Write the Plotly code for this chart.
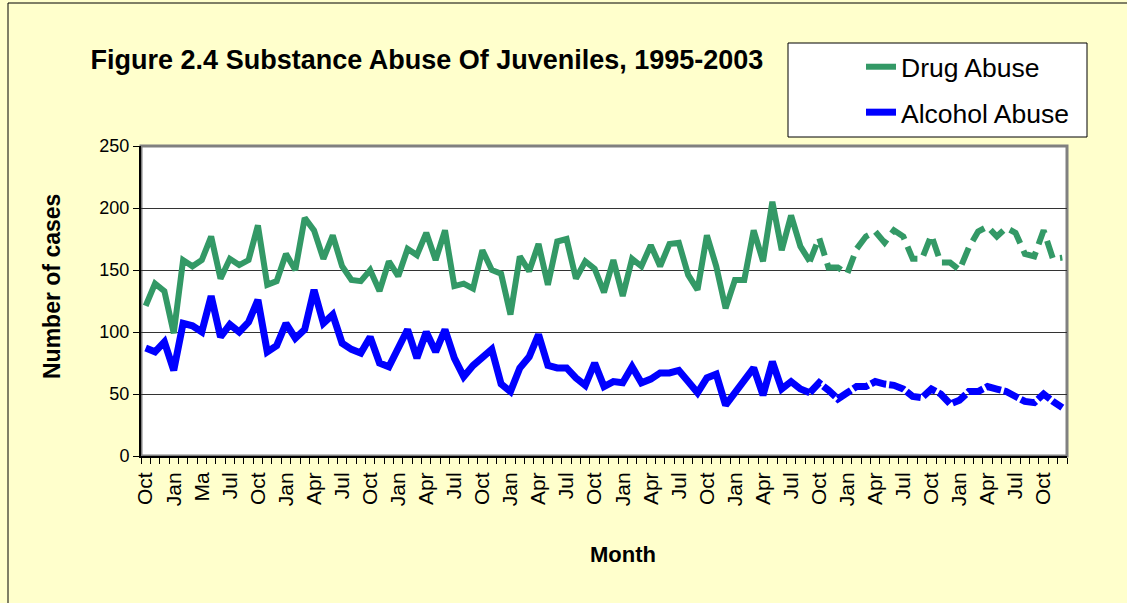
import plotly.graph_objects as go

# Monthly juvenile case counts, Oct 1995 - Dec 2003
drug_abuse = [
    121, 139, 133, 99, 158, 153, 158, 177, 143, 159, 154, 158,
    186, 138, 141, 163, 150, 192, 182, 159, 178, 153, 142, 141,
    150, 133, 157, 145, 167, 162, 180, 158, 182, 137, 139, 135,
    166, 150, 147, 114, 161, 149, 171, 138, 173, 175, 143, 157,
    151, 132, 158, 129, 159, 153, 170, 153, 171, 172, 146, 134,
    178, 153, 119, 142, 142, 182, 157, 205, 166, 194, 169, 157,
    176, 152, 152, 147, 167, 177, 181, 172, 182, 177, 159, 159,
    178, 156, 156, 150, 168, 181, 185, 177, 184, 180, 163, 161,
    182, 159, 160,
]
alcohol_abuse = [
    87, 84, 92, 69, 107, 105, 100, 129, 96, 106, 100, 108,
    126, 84, 89, 107, 95, 102, 134, 107, 114, 91, 86, 83,
    96, 75, 72, 87, 102, 79, 100, 84, 102, 79, 64, 73,
    80, 86, 58, 52, 71, 80, 98, 73, 71, 71, 63, 57,
    75, 56, 60, 59, 72, 59, 62, 67, 67, 69, 60, 51,
    63, 66, 41, 51, 59, 71, 49, 76, 54, 60, 54, 51,
    59, 53, 46, 51, 56, 56, 60, 58, 57, 54, 48, 47,
    54, 50, 42, 45, 52, 52, 56, 54, 52, 48, 44, 43,
    50, 44, 39,
]
# Months from this index on are drawn with a dashed line
projection_start = 72

# Quarterly month labels (every third month starting Oct 1995)
tick_labels = [
    "Oct", "Jan", "Ma", "Jul", "Oct", "Jan", "Apr", "Jul", "Oct", "Jan", "Apr",
    "Jul", "Oct", "Jan", "Apr", "Jul", "Oct", "Jan", "Apr", "Jul", "Oct", "Jan",
    "Apr", "Jul", "Oct", "Jan", "Apr", "Jul", "Oct", "Jan", "Apr", "Jul", "Oct",
]
label_step = 3

GREEN = "#339966"
BLUE = "#0000FF"
BG = "#FFFFCC"
FONT = "Liberation Sans, Arial, sans-serif"

months = list(range(len(drug_abuse)))
split = projection_start - 1

fig = go.Figure()
series = [
    ("Drug Abuse", drug_abuse, GREEN, 6, "18px,8px"),
    ("Alcohol Abuse", alcohol_abuse, BLUE, 7, "16px,3px"),
]
for name, values, color, width, dash in series:
    fig.add_trace(go.Scatter(
        x=months[:projection_start], y=values[:projection_start],
        mode="lines", name=name, legendgroup=name,
        line=dict(color=color, width=width),
    ))
    fig.add_trace(go.Scatter(
        x=months[split:], y=values[split:],
        mode="lines", name=name, legendgroup=name, showlegend=False,
        line=dict(color=color, width=width, dash=dash),
    ))

L, R, T, B = 141, 1067, 146, 456
W, H = 1127, 603


def px_x(px):
    return (px - L) / (R - L)


def px_y(py):
    return (B - py) / (B - T)


fig.update_layout(
    width=W, height=H, autosize=False,
    margin=dict(l=L, r=W - R, t=T, b=H - B, pad=0),
    paper_bgcolor=BG, plot_bgcolor="white",
    font=dict(family=FONT, color="black"),
    title=dict(
        text="<b>Figure 2.4 Substance Abuse Of Juveniles, 1995-2003</b>",
        x=427 / W, xanchor="center", y=1 - 60 / H, yanchor="middle",
        font=dict(size=27, family=FONT, color="black"),
    ),
    showlegend=True,
    legend=dict(
        x=px_x(861), xanchor="left", y=px_y(43), yanchor="top",
        bgcolor="rgba(0,0,0,0)", borderwidth=0,
        font=dict(size=26.5, family=FONT, color="black"),
        traceorder="grouped", tracegroupgap=8,
    ),
    xaxis=dict(
        range=[-0.5, len(months) - 0.5],
        tickmode="array",
        tickvals=months[::label_step],
        ticktext=tick_labels,
        tickangle=-90,
        tickfont=dict(size=21, family=FONT, color="black"),
        ticks="outside", ticklen=6, tickcolor="rgba(0,0,0,0)",
        showgrid=False, zeroline=False,
        showline=True, linecolor="black", linewidth=2,
        minor=dict(tickmode="linear", tick0=-0.5, dtick=1, ticks="outside",
                   ticklen=6, tickwidth=1, tickcolor="black", showgrid=False),
    ),
    yaxis=dict(
        range=[0, 250], tickmode="linear", tick0=0, dtick=50,
        tickfont=dict(size=18, family=FONT, color="black"),
        ticks="outside", ticklen=6, tickcolor="black", tickwidth=1,
        showgrid=True, gridcolor="#333333", gridwidth=1,
        zeroline=False,
        showline=True, linecolor="black", linewidth=2,
    ),
    shapes=[
        # outer chart frame
        dict(type="rect", xref="paper", yref="paper",
             x0=px_x(8), x1=px_x(1140), y0=px_y(615), y1=px_y(3),
             line=dict(color="black", width=1), fillcolor="rgba(0,0,0,0)",
             layer="below"),
        # plot area frame
        dict(type="rect", xref="paper", yref="paper", x0=0, x1=1, y0=0, y1=1,
             line=dict(color="#808080", width=3), fillcolor="rgba(0,0,0,0)",
             layer="below"),
        # legend box
        dict(type="rect", xref="paper", yref="paper",
             x0=px_x(788), x1=px_x(1087), y0=px_y(137), y1=px_y(43),
             line=dict(color="black", width=1), fillcolor="white",
             layer="below"),
    ],
    annotations=[
        dict(text="<b>Month</b>", xref="paper", yref="paper",
             x=px_x(623), y=px_y(554), xanchor="center", yanchor="middle",
             showarrow=False, font=dict(size=22, family=FONT, color="black")),
        dict(text="<b>Number of cases</b>", xref="paper", yref="paper",
             x=px_x(52), y=px_y(287), xanchor="center", yanchor="middle",
             textangle=-90, showarrow=False,
             font=dict(size=23, family=FONT, color="black")),
    ],
)

fig.write_html("out.html")
